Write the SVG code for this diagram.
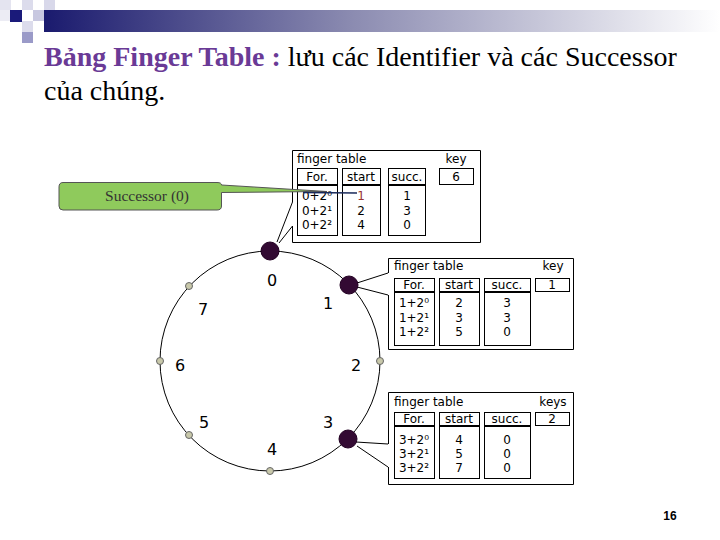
<svg xmlns="http://www.w3.org/2000/svg" width="720" height="540" viewBox="0 0 720 540">
<defs>
<linearGradient id="bar" x1="0" y1="0" x2="1" y2="0">
<stop offset="0" stop-color="#1a1a6e"/>
<stop offset="0.45" stop-color="#8a8ab0"/>
<stop offset="1" stop-color="#ffffff"/>
</linearGradient>
<style>
.t{font-family:"DejaVu Sans",Verdana,sans-serif;font-size:12px;fill:#000}
.m{text-anchor:middle}
.lbl{font-family:"DejaVu Sans",Verdana,sans-serif;font-size:16px;fill:#000;text-anchor:middle}
.box{fill:none;stroke:#000;stroke-width:1}
.hd{stroke:#000;stroke-width:2}
.ln{stroke:#000;stroke-width:1;fill:none}
.big{fill:#330a33;stroke:#220022;stroke-width:1}
.small{fill:#c8c8aa;stroke:#666;stroke-width:1}
</style>
</defs>
<rect width="720" height="540" fill="#fff"/>
<g id="header">
<rect x="44" y="10" width="676" height="22" fill="url(#bar)"/>
<rect x="0" y="0" width="11" height="10" fill="#e4e4f0"/>
<rect x="0" y="10" width="10" height="11" fill="#ececf4"/>
<rect x="10" y="10" width="12" height="12" fill="#1a1a7a"/>
<rect x="22" y="0" width="11" height="10" fill="#dcdcec"/>
<rect x="33" y="10" width="11" height="11" fill="#c8c8e0"/>
<rect x="44" y="0" width="11" height="10" fill="#d8d8ea"/>
<rect x="22" y="21" width="11" height="11" fill="#dcdcec"/>
<rect x="22" y="32" width="11" height="11" fill="#9a9ac8"/>
</g>
<g id="title" font-family="'Liberation Serif','Times New Roman',serif" font-size="28">
<text x="44" y="66"><tspan font-weight="bold" fill="#6a3a96">Bảng Finger Table :</tspan><tspan fill="#000"> lưu các Identifier và các Successor</tspan></text>
<text x="44" y="100" fill="#000">của chúng.</text>
</g>
<g id="connectors">
<circle cx="270" cy="361" r="110" class="ln"/>
<path class="ln" d="M292.5,202 L277,242 M292.5,226 L279,243"/>
<path class="ln" d="M388,273 L357,283 M388,295 L357,287"/>
<path class="ln" d="M388,444 L356,442 M388,467 L357,446"/>
</g>
<g id="ring-nodes">
<circle class="big" cx="270" cy="251" r="9"/>
<circle class="big" cx="349" cy="285" r="9"/>
<circle class="big" cx="348" cy="439" r="9"/>
<circle class="small" cx="380" cy="361" r="3.5"/>
<circle class="small" cx="270" cy="471" r="3.5"/>
<circle class="small" cx="189" cy="435" r="3.5"/>
<circle class="small" cx="160" cy="361" r="3.5"/>
<circle class="small" cx="189" cy="286" r="3.5"/>
<text class="lbl" x="272" y="286">0</text>
<text class="lbl" x="328" y="309">1</text>
<text class="lbl" x="356" y="371">2</text>
<text class="lbl" x="328" y="428">3</text>
<text class="lbl" x="272" y="455">4</text>
<text class="lbl" x="204" y="428">5</text>
<text class="lbl" x="180" y="371">6</text>
<text class="lbl" x="203" y="315">7</text>
</g>
<g id="table0">
<path class="box" d="M292.5,202 V150.5 H480.5 V242.5 H292.5 V226"/>
<text class="t" x="297" y="163">finger table</text>
<text class="t m" x="456" y="163">key</text>
<rect class="box" x="297.5" y="168.5" width="40" height="67"/>
<rect class="box" x="342.5" y="168.5" width="38" height="67"/>
<rect class="box" x="388.5" y="168.5" width="37" height="67"/>
<line class="hd" x1="297" y1="185" x2="338" y2="185"/>
<line class="hd" x1="342" y1="185" x2="381" y2="185"/>
<line class="hd" x1="388" y1="185" x2="426" y2="185"/>
<rect class="box" x="439.5" y="168.5" width="34" height="16"/>
<text class="t m" x="317" y="181">For.</text>
<text class="t m" x="361" y="181">start</text>
<text class="t m" x="407" y="181">succ.</text>
<text class="t m" x="456" y="181">6</text>
<text class="t m" x="317" y="200">0+2⁰</text>
<text class="t m" x="317" y="215">0+2¹</text>
<text class="t m" x="317" y="229">0+2²</text>
<text class="t m" x="361" y="200" style="fill:#993333">1</text>
<text class="t m" x="361" y="215">2</text>
<text class="t m" x="361" y="229">4</text>
<text class="t m" x="407" y="200">1</text>
<text class="t m" x="407" y="215">3</text>
<text class="t m" x="407" y="229">0</text>
</g>
<g id="successor-callout">
<path d="M63,182.5 H217 Q221.5,182.5 221.5,185 L327,191.5 L221.5,192.5 V206 Q221.5,210 217,210 H63 Q59,210 59,206 V187 Q59,182.5 63,182.5 Z" fill="#8fca5c" stroke="#555" stroke-width="1"/>
<line x1="303" y1="192.5" x2="357" y2="193" stroke="#1a2a5a" stroke-width="1.5"/>
<text x="147" y="201" font-family="'Liberation Serif','Times New Roman',serif" font-size="15.5" fill="#333" text-anchor="middle">Successor (0)</text>
</g>
<g id="table1">
<path class="box" d="M388.5,273 V258.5 H573.5 V349.5 H388.5 V295"/>
<text class="t" x="394" y="270">finger table</text>
<text class="t m" x="553" y="270">key</text>
<rect class="box" x="394.5" y="278.5" width="40" height="67"/>
<rect class="box" x="439.5" y="278.5" width="40" height="67"/>
<rect class="box" x="484.5" y="278.5" width="46" height="67"/>
<line class="hd" x1="394" y1="292" x2="435" y2="292"/>
<line class="hd" x1="439" y1="292" x2="480" y2="292"/>
<line class="hd" x1="484" y1="292" x2="531" y2="292"/>
<rect class="box" x="535.5" y="278.5" width="34" height="13"/>
<text class="t m" x="414" y="289">For.</text>
<text class="t m" x="459" y="289">start</text>
<text class="t m" x="507" y="289">succ.</text>
<text class="t m" x="552" y="289">1</text>
<text class="t m" x="414" y="307">1+2⁰</text>
<text class="t m" x="414" y="322">1+2¹</text>
<text class="t m" x="414" y="336">1+2²</text>
<text class="t m" x="459" y="307">2</text>
<text class="t m" x="459" y="322">3</text>
<text class="t m" x="459" y="336">5</text>
<text class="t m" x="507" y="307">3</text>
<text class="t m" x="507" y="322">3</text>
<text class="t m" x="507" y="336">0</text>
</g>
<g id="table3">
<path class="box" d="M388.5,444 V392.5 H573.5 V484.5 H388.5 V467"/>
<text class="t" x="394" y="406">finger table</text>
<text class="t m" x="553" y="406">keys</text>
<rect class="box" x="394.5" y="412.5" width="40" height="66"/>
<rect class="box" x="439.5" y="412.5" width="40" height="66"/>
<rect class="box" x="484.5" y="412.5" width="46" height="66"/>
<line class="hd" x1="394" y1="426" x2="435" y2="426"/>
<line class="hd" x1="439" y1="426" x2="480" y2="426"/>
<line class="hd" x1="484" y1="426" x2="531" y2="426"/>
<rect class="box" x="535.5" y="412.5" width="34" height="13"/>
<text class="t m" x="414" y="423">For.</text>
<text class="t m" x="459" y="423">start</text>
<text class="t m" x="507" y="423">succ.</text>
<text class="t m" x="552" y="423">2</text>
<text class="t m" x="414" y="444">3+2⁰</text>
<text class="t m" x="414" y="458">3+2¹</text>
<text class="t m" x="414" y="472">3+2²</text>
<text class="t m" x="459" y="444">4</text>
<text class="t m" x="459" y="458">5</text>
<text class="t m" x="459" y="472">7</text>
<text class="t m" x="507" y="444">0</text>
<text class="t m" x="507" y="458">0</text>
<text class="t m" x="507" y="472">0</text>
</g>
<text x="670" y="520" font-family="'Liberation Sans',Arial,sans-serif" font-size="12" font-weight="bold" text-anchor="middle">16</text>
</svg>
